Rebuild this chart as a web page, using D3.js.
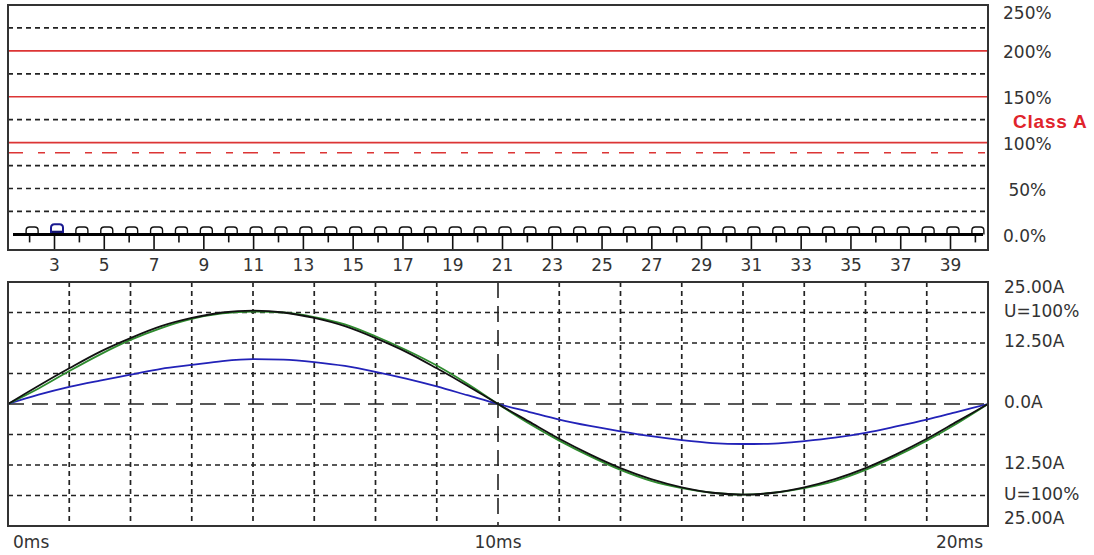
<!DOCTYPE html>
<html><head><meta charset="utf-8">
<script src="https://cdn.jsdelivr.net/npm/d3@7"></script>
<style>
body{margin:0;background:#fff}
text{font-family:"DejaVu Sans",sans-serif;font-size:17px;fill:#333}
</style>
</head><body><svg id="c" width="1094" height="555"></svg>
<script>
// ---------- data: harmonic panel ----------
const harmonics = [2,3,4,5,6,7,8,9,10,11,12,13,14,15,16,17,18,19,20,21,22,23,24,25,26,27,28,29,30,31,32,33,34,35,36,37,38,39,40];
const harmonicLimits = [8,11,8,8,8,8,8,8,8,8,8,8,8,8,8,8,8,8,8,8,8,8,8,8,8,8,8,8,8,8,8,8,8,8,8,8,8,8,8]; // outline bar (%)
const harmonicValues = [0,4,0,0,0,0,0,0,0,0,0,0,0,0,0,0,0,0,0,0,0,0,0,0,0,0,0,0,0,0,0,0,0,0,0,0,0,0,0]; // filled bar (%)
const harmonicTickLabels = [3,5,7,9,11,13,15,17,19,21,23,25,27,29,31,33,35,37,39];
const harmonicMinorTicks = [2,4,6,8,10,12,14,16,18,20,22,24,26,28,30,32,34,36,38,40];
const pctLabelValues = [250,200,150,100,50,0];
const pctLabelTexts = ["250%","200%","150%","100%"," 50%","0.0%"];
const pctDashedGrid = [25,50,75,125,175,225];
const pctRedLines = [100,150,200];
const classALimit = 89;

// ---------- data: waveform panel ----------
const timeMs = [0,0.625,1.25,1.875,2.5,3.125,3.75,4.375,5,5.625,6.25,6.875,7.5,8.125,8.75,9.375,10,
  10.625,11.25,11.875,12.5,13.125,13.75,14.375,15,15.625,16.25,16.875,17.5,18.125,18.75,19.375,20];
const voltagePct = [0,20,39,57,72,85,94,100,102,100,94,85,72,57,39,20,0,-19,-38,-55,-70,-82,-91,-97,-99,-97,-91,-82,-70,-55,-38,-19,0];
const greenPct   = [0,17,36,54,70,83,93,99,101,100,95,87,74,59,42,22,0,-21,-40,-57,-72,-84,-92,-97,-99,-97,-92,-84,-72,-57,-40,-21,0];
const currentA   = [0,1.9,3.5,4.8,6.0,7.2,8.0,8.8,9.2,9.1,8.6,7.8,6.6,5.2,3.6,1.8,0,-1.6,-3.2,-4.5,-5.6,-6.6,-7.4,-8.0,-8.2,-8.1,-7.6,-6.9,-5.9,-4.6,-3.2,-1.6,0];
const ampGrid = [-18.75,-12.5,-6.25,6.25,12.5,18.75];
const timeGrid = [1.25,2.5,3.75,5,6.25,7.5,8.75,11.25,12.5,13.75,15,16.25,17.5,18.75];
const rightLabelTexts = ["25.00A","U=100%","12.50A","0.0A","12.50A","U=100%","25.00A"];
const rightLabelValues = [25,100,12.5,0,-12.5,-100,-25];
const rightLabelUnits = ["A","U","A","A","A","U","A"];
const timeLabelValues = [0,10,20];
const timeLabelTexts = ["0ms","10ms","20ms"];

const svg = d3.select("#c");
const L = 8, R = 988;

// ================= TOP PANEL =================
const xH = d3.scaleLinear().domain([3,39]).range([54,950]);
const yP = d3.scaleLinear().domain([-17,250]).range([250,5]);
const topG = svg.append("g");

topG.selectAll(".dg").data(pctDashedGrid).join("line")
  .attr("x1",L).attr("x2",R).attr("y1",d=>yP(d)).attr("y2",d=>yP(d))
  .attr("stroke","#222").attr("stroke-width",1.7).attr("stroke-dasharray","5,4");
topG.selectAll(".rl").data(pctRedLines).join("line")
  .attr("x1",L).attr("x2",R).attr("y1",d=>yP(d)).attr("y2",d=>yP(d))
  .attr("stroke","#dc3535").attr("stroke-width",1.6);
topG.append("line").attr("x1",L).attr("x2",R).attr("y1",yP(classALimit)).attr("y2",yP(classALimit))
  .attr("stroke","#dc3535").attr("stroke-width",1.6).attr("stroke-dasharray","15,15,7,10");

// ticks
const axMajor = d3.axisBottom(xH).tickValues(harmonicTickLabels).tickSize(16).tickPadding(9).tickFormat(d3.format("d"));
const axMinor = d3.axisBottom(xH).tickValues(harmonicMinorTicks).tickSize(8).tickFormat("");
const gMaj = topG.append("g").attr("transform",`translate(0,${yP(0)})`).call(axMajor);
const gMin = topG.append("g").attr("transform",`translate(0,${yP(0)})`).call(axMinor);
[gMaj,gMin].forEach(g=>{
  g.select(".domain").remove();
  g.selectAll(".tick line").attr("stroke","#111").attr("stroke-width",1.6);
  g.selectAll(".tick text").attr("fill","#333").style("font-family","DejaVu Sans").style("font-size","17px");
});
// bars (outline = limit glyph, fill = value)
const bw = 12, off = 3;
const barG = topG.selectAll(".hb").data(harmonics.map((h,i)=>({h,lim:harmonicLimits[i],v:harmonicValues[i]}))).join("g");
barG.filter(d=>d.v>0).append("rect")
  .attr("x",d=>xH(d.h)+off-bw/2).attr("width",bw)
  .attr("y",d=>yP(d.v)).attr("height",d=>yP(0)-yP(d.v)).attr("fill","#141470");
barG.append("path")
  .attr("d",d=>{const x0=xH(d.h)+off-bw/2,x1=x0+bw,yb=yP(0),yt=yP(d.lim),r=3.5;
    return `M${x0},${yb}V${yt+r}Q${x0},${yt} ${x0+r},${yt}H${x1-r}Q${x1},${yt} ${x1},${yt+r}V${yb}`;})
  .attr("fill","none").attr("stroke",d=>d.v>0?"#1a1a90":"#111").attr("stroke-width",d=>d.v>0?2:1.4);
// baseline
topG.append("line").attr("x1",13).attr("x2",983).attr("y1",yP(0)).attr("y2",yP(0))
  .attr("stroke","#000").attr("stroke-width",3);
// frame
topG.append("rect").attr("x",L).attr("y",yP(250)).attr("width",R-L).attr("height",yP(-17)-yP(250))
  .attr("fill","none").attr("stroke","#333").attr("stroke-width",2);
// right labels
topG.selectAll(".pl").data(pctLabelValues).join("text")
  .attr("x",1003).attr("y",d=>Math.max(yP(d)+1,13)).attr("dy","0.36em")
  .attr("xml:space","preserve").style("white-space","pre")
  .text((d,i)=>pctLabelTexts[i]);
topG.append("text").attr("x",1013).attr("y",yP(125)+1).attr("dy","0.36em")
  .style("font-family","Liberation Sans, Arial, sans-serif").style("font-weight","bold").style("font-size","19px")
  .style("letter-spacing","0.8px").style("fill","#e0242c").text("Class A");

// ================= BOTTOM PANEL =================
const xT = d3.scaleLinear().domain([0,20]).range([L,R]);
const yA = d3.scaleLinear().domain([-25,25]).range([526,282]);
const yU = d3.scaleLinear().domain([-400/3,400/3]).range([526,282]);
const botG = svg.append("g");

botG.selectAll(".hg").data(ampGrid).join("line")
  .attr("x1",L).attr("x2",R).attr("y1",d=>yA(d)).attr("y2",d=>yA(d))
  .attr("stroke","#222").attr("stroke-width",1.7).attr("stroke-dasharray","5,4");
botG.selectAll(".vg").data(timeGrid).join("line")
  .attr("x1",d=>xT(d)).attr("x2",d=>xT(d)).attr("y1",282).attr("y2",526)
  .attr("stroke","#222").attr("stroke-width",1.7).attr("stroke-dasharray","5,4");
botG.append("line").attr("x1",L).attr("x2",R).attr("y1",yA(0)).attr("y2",yA(0))
  .attr("stroke","#222").attr("stroke-width",1.6).attr("stroke-dasharray","16,8");
botG.append("line").attr("x1",xT(10)).attr("x2",xT(10)).attr("y1",282).attr("y2",526)
  .attr("stroke","#222").attr("stroke-width",1.6).attr("stroke-dasharray","16,8");

const lineU = d3.line().x((d,i)=>xT(timeMs[i])).y(d=>yU(d)).curve(d3.curveMonotoneX);
const lineA = d3.line().x((d,i)=>xT(timeMs[i])).y(d=>yA(d)).curve(d3.curveMonotoneX);
botG.append("path").datum(currentA).attr("d",lineA).attr("fill","none").attr("stroke","#2222b8").attr("stroke-width",1.8);
botG.append("path").datum(greenPct).attr("d",lineU).attr("fill","none").attr("stroke","#2e8b2e").attr("stroke-width",1.8);
botG.append("path").datum(voltagePct).attr("d",lineU).attr("fill","none").attr("stroke","#111").attr("stroke-width",1.8);

botG.append("rect").attr("x",L).attr("y",282).attr("width",R-L).attr("height",244)
  .attr("fill","none").attr("stroke","#333").attr("stroke-width",2);

botG.selectAll(".rl").data(rightLabelValues).join("text")
  .attr("x",1004)
  .attr("y",(d,i)=>{const s=rightLabelUnits[i]==="U"?yU:yA;return Math.min(Math.max(s(d)-2,287),518);})
  .attr("dy","0.36em").text((d,i)=>rightLabelTexts[i]);

botG.selectAll(".tl").data(timeLabelValues).join("text")
  .attr("x",(d,i)=>xT(d)+(i===0?5:i===2?-5:0)).attr("y",548)
  .attr("text-anchor",(d,i)=>i===0?"start":i===2?"end":"middle")
  .text((d,i)=>timeLabelTexts[i]);
</script>
</body></html>
